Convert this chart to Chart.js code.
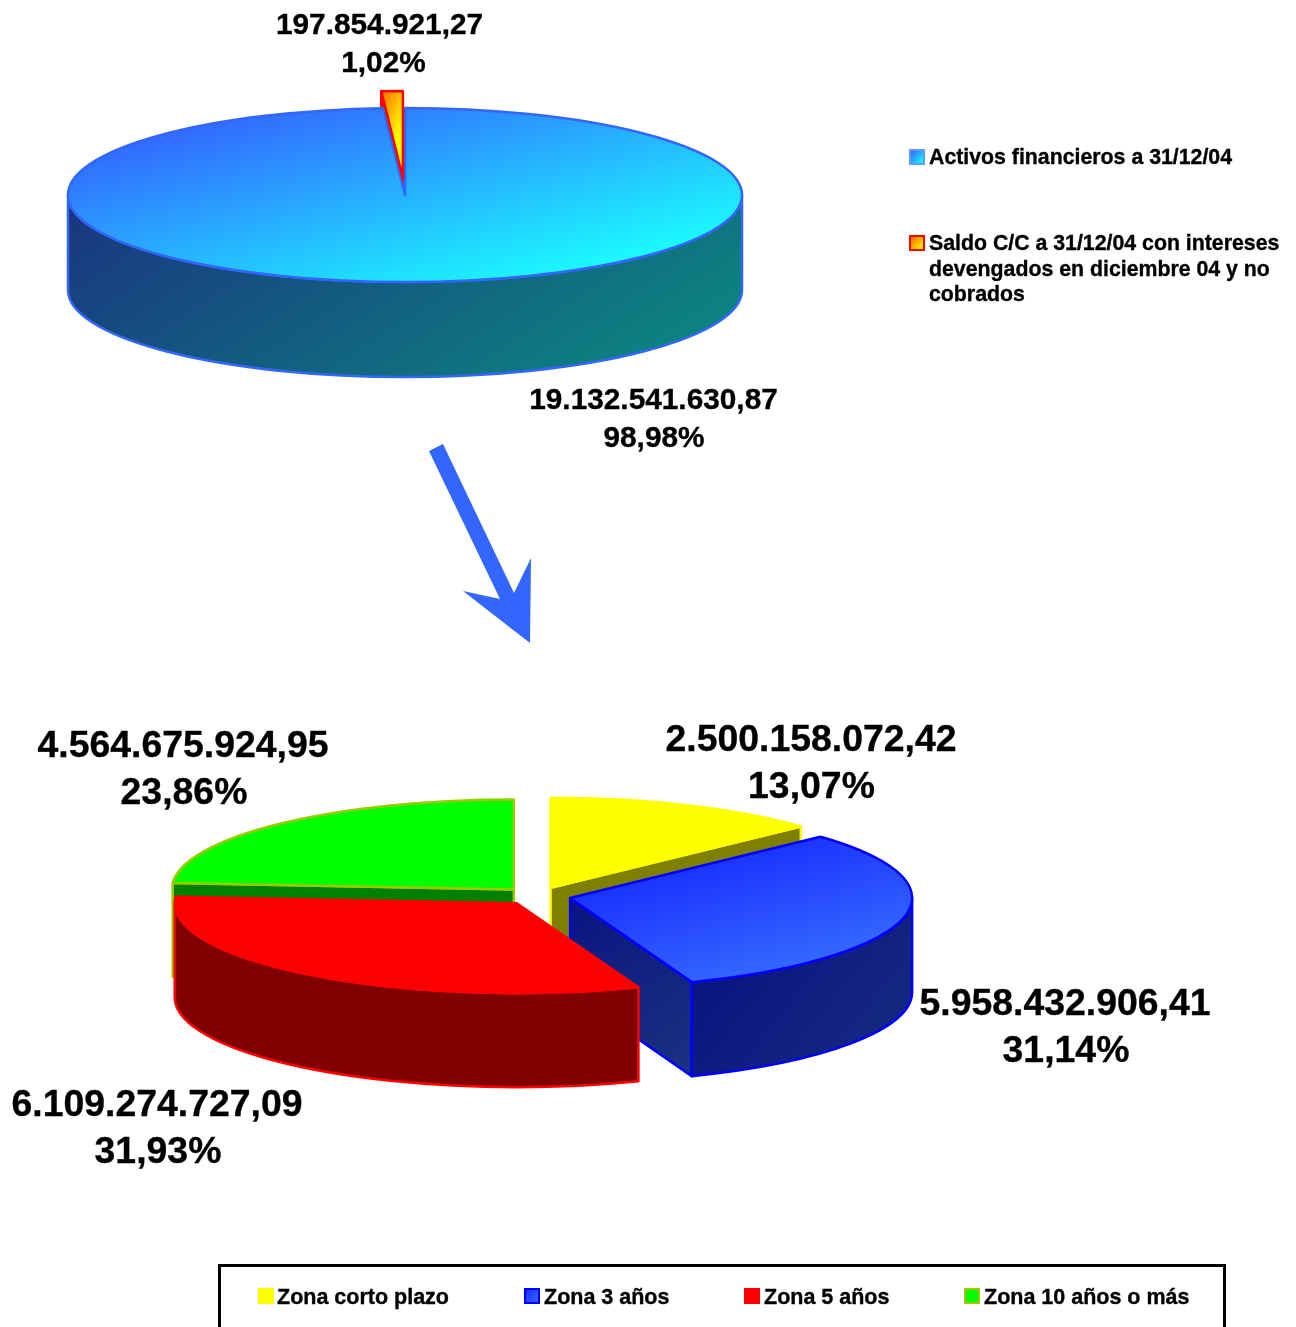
<!DOCTYPE html>
<html lang="es"><head><meta charset="utf-8"><title>Activos financieros</title>
<script src="https://cdn.jsdelivr.net/npm/chart.js@4"></script>
<style>
html,body{margin:0;padding:0;background:#fff;width:1296px;height:1327px;overflow:hidden}
body{position:relative;font-family:"Liberation Sans",Arial,sans-serif;font-weight:bold;color:#000;-webkit-text-stroke:0.35px #000}
canvas{position:absolute;left:0;top:0}
.lab{position:absolute;transform:translateX(-50%);text-align:center;white-space:nowrap}
.leg{position:absolute;line-height:25.5px}
.sw{position:absolute;box-sizing:border-box}
#frame{position:absolute;left:218px;top:1264px;width:1008px;height:90px;box-sizing:border-box;border:3px solid #000}
#arrow{position:absolute;left:0;top:0}
</style></head><body>
<svg id="arrow" width="1296" height="1327"><polygon fill="#3366ff" points="429,451 443,444 514,593 531,558 530,643 463,591 500,599"/></svg>
<canvas id="topPie" width="1296" height="1327"></canvas>
<canvas id="bottomPie" width="1296" height="1327"></canvas>
<div id="frame"></div>
<script>
// ---- data ----
const topCategories = ['Activos financieros a 31/12/04','Saldo C/C a 31/12/04 con intereses devengados en diciembre 04 y no cobrados'];
const topValues = [19132541630.87, 197854921.27];
const topPercents = ['98,98%','1,02%'];
const bottomCategories = ['Zona corto plazo','Zona 3 años','Zona 5 años','Zona 10 años o más'];
const bottomValues = [2500158072.42, 5958432906.41, 6109274727.09, 4564675924.95];
const bottomPercents = ['13,07%','31,14%','31,93%','23,86%'];

// ---- style ----
const W = 1296, H = 1327;
const topGeom = {cx:405, cy:195, r:337, k:87/337, depth:95, explode:[0,66], wallVec:[240,370], faceFrom:[0,0], faceBox:[null,[381,91,416.6,92]]};
const bottomGeom = {cx:537, cy:896, r:342, k:90/342, depth:94, explode:[34,34,34,34], wallVec:[219,180], faceFrom:[0,0.5,0,0], faceBox:[]};
const topFaces = [['#3366ff','#1affff'],['#ff6600','#ffff00']];
const topWalls = [['#1a3380','#0d8080'],['#ff0000','#ff0000']];
const topBorders = ['#3366ff','#ff0000'];
const bottomFaces = [['#ffff00','#ffff00'],['#1a2fff','#3366ff'],['#ff0000','#ff0000'],['#00ff00','#00ff00']];
const bottomWalls = [['#808000','#808000'],['#0a1480','#1a3380'],['#800000','#800000'],['#008000','#008000']];
const bottomBorders = ['#ffff00','#0000ff','#ff0000','#99cc00'];

function fmt(v){
  const p = v.toFixed(2).split('.');
  return p[0].replace(/\B(?=(\d{3})+(?!\d))/g,'.') + ',' + p[1];
}

const pie3d = {
  id:'pie3d',
  afterDatasetsUpdate(chart){
    // pull every slice away from the centre along its own mid-angle
    const g = chart.options.plugins.pie3d;
    chart.getDatasetMeta(0).data.forEach((arc,i)=>{
      const half = (arc.startAngle+arc.endAngle)/2;
      arc.x += Math.cos(half)*g.explode[i];
      arc.y += Math.sin(half)*g.explode[i];
    });
  },
  beforeDatasetsDraw(chart){
    const g = chart.options.plugins.pie3d, ctx = chart.ctx, arcs = chart.getDatasetMeta(0).data;
    const info = arcs.map((arc,i)=>sliceInfo(arc,i,g));
    const DEPTH = g.depth;
    info.slice().sort((a,b)=>Math.sin(a.half)-Math.sin(b.half)).forEach(s=>{
      const wallStyle = (x0,y0,x1,y1)=>{
        const gr = ctx.createLinearGradient(x0,y0,x1,y1);
        gr.addColorStop(0,g.walls[s.i][0]); gr.addColorStop(1,g.walls[s.i][1]);
        ctx.fillStyle = gr; ctx.strokeStyle = g.borders[s.i];
        ctx.lineWidth = 2.5; ctx.lineJoin = 'round';
      };
      const ra = g.r, ry = g.k*g.r;
      const radial = (a)=>{
        const px = s.x+ra*Math.cos(a), py = s.y+ry*Math.sin(a);
        wallStyle(Math.min(s.x,px),s.y,Math.max(s.x,px),s.y+DEPTH+Math.abs(py-s.y));
        ctx.beginPath(); ctx.moveTo(s.x,s.y); ctx.lineTo(px,py); ctx.lineTo(px,py+DEPTH); ctx.lineTo(s.x,s.y+DEPTH); ctx.closePath();
        ctx.fill(); ctx.stroke();
      };
      if (Math.cos(s.a0) < -1e-6) radial(s.a0);
      if (Math.cos(s.a1) > 1e-6) radial(s.a1);
      const a = Math.max(s.a0,0), b = Math.min(s.a1,Math.PI);
      if (a < b){
        const xl = s.x+ra*Math.min(Math.cos(a),Math.cos(b));
        const yt = s.y+ry*Math.max(Math.sin(a),Math.sin(b));
        wallStyle(xl,yt,xl+g.wallVec[0],yt+g.wallVec[1]);
        ctx.beginPath();
        ctx.ellipse(s.x,s.y,ra,ry,0,a,b);
        ctx.ellipse(s.x,s.y+DEPTH,ra,ry,0,b,a,true);
        ctx.closePath(); ctx.fill(); ctx.stroke();
      }
    });
    ctx.save();
    ctx.translate(g.cx,g.cy); ctx.scale(1,g.k); ctx.translate(-g.cx,-g.cy);
  },
  afterDatasetsDraw(chart){
    const g = chart.options.plugins.pie3d, ctx = chart.ctx, arcs = chart.getDatasetMeta(0).data;
    ctx.restore();
    arcs.forEach((arc,i)=>{
      const s = sliceInfo(arc,i,g);
      ctx.strokeStyle = g.borders[i]; ctx.lineWidth = 2.5; ctx.lineJoin = 'round';
      ctx.beginPath(); ctx.moveTo(s.x,s.y);
      ctx.ellipse(s.x,s.y,g.r,g.k*g.r,0,s.a0,s.a1);
      ctx.closePath(); ctx.stroke();
    });
  }
};
function sliceInfo(arc,i,g){
  return {i, half:(arc.startAngle+arc.endAngle)/2, a0:arc.startAngle, a1:arc.endAngle,
    x:arc.x, y:g.cy+g.k*(arc.y-g.cy)};
}
function faceColor(g,faces){
  return c=>{
    const R = g.r*0.75, i = c.dataIndex, box = g.faceBox[i];
    const unY = y=>g.cy+(y-g.cy)/g.k;
    const gr = box
      ? c.chart.ctx.createLinearGradient(box[0],unY(box[1]),box[2],unY(box[3]))
      : c.chart.ctx.createLinearGradient(g.cx-R,g.cy-R,g.cx+R,g.cy+R);
    gr.addColorStop(g.faceFrom[i]||0,faces[i][0]); gr.addColorStop(1,faces[i][1]);
    return gr;
  };
}
function makePie(id,labels,values,g,faces,walls,borders){
  const opts = Object.assign({},g,{walls,borders});
  return new Chart(document.getElementById(id),{
    type:'pie',
    data:{labels,datasets:[{data:values,backgroundColor:faceColor(g,faces),borderColor:borders,borderWidth:0,clip:false}]},
    options:{
      responsive:false,animation:false,radius:g.r,
      layout:{padding:{left:0,top:Math.max(0,2*g.cy-H),right:W-2*g.cx,bottom:Math.max(0,H-2*g.cy)}},
      events:[],
      plugins:{legend:{display:false},tooltip:{enabled:false},pie3d:opts}
    },
    plugins:[pie3d]
  });
}
makePie('topPie',topCategories,topValues,topGeom,topFaces,topWalls,topBorders);
makePie('bottomPie',bottomCategories,bottomValues,bottomGeom,bottomFaces,bottomWalls,bottomBorders);

// ---- labels ----
function label(value,pct,x,y,size,lh,shift){
  const d=document.createElement('div');d.className='lab';
  d.style.cssText=`left:${x}px;top:${y}px;font-size:${size}px;line-height:${lh}px`;
  d.innerHTML=fmt(value)+`<br><span style="position:relative;left:${shift}px">${pct}</span>`;document.body.appendChild(d);
}
label(topValues[1],topPercents[1],379.5,5,29.8,38,4);
label(topValues[0],topPercents[0],653.5,380,29.8,38,0.5);
label(bottomValues[0],bottomPercents[0],811,715,37.4,47,0.5);
label(bottomValues[3],bottomPercents[3],183,721,37.4,46.5,1);
label(bottomValues[1],bottomPercents[1],1065,979,37.4,46.5,1);
label(bottomValues[2],bottomPercents[2],157,1080,37.4,47,1);

function legend(text,x,y,w,size){
  const d=document.createElement('div');d.className='leg';
  d.style.cssText=`left:${x}px;top:${y}px;width:${w}px;font-size:${size}px`;
  d.textContent=text;document.body.appendChild(d);
}
function swatch(x,y,bg,border){
  const d=document.createElement('div');d.className='sw';
  d.style.cssText=`left:${x}px;top:${y}px;width:16px;height:16px;background:${bg};border:2px solid ${border}`;
  document.body.appendChild(d);
}
const LEG_TOP = 21.3, LEG_BOT = 21.5;
swatch(909,149,'linear-gradient(135deg,#3366ff,#1affff)','#6699ff');
legend(topCategories[0],929,145,364,LEG_TOP);
swatch(909,235,'linear-gradient(135deg,#ff6600,#ffff00)','#ff0000');
legend(topCategories[1],929,231,364,LEG_TOP);
const botX=[277,544,764,984], swX=[258,524,744,964];
const swBg=['#ffff00','linear-gradient(135deg,#1a2fff,#3366ff)','#ff0000','#00ff00'];
const swBd=['#ffff00','#0000ff','#ff0000','#99cc00'];
bottomCategories.forEach((t,i)=>{swatch(swX[i],1288,swBg[i],swBd[i]);legend(t,botX[i],1285,240,LEG_BOT);});
</script></body></html>
